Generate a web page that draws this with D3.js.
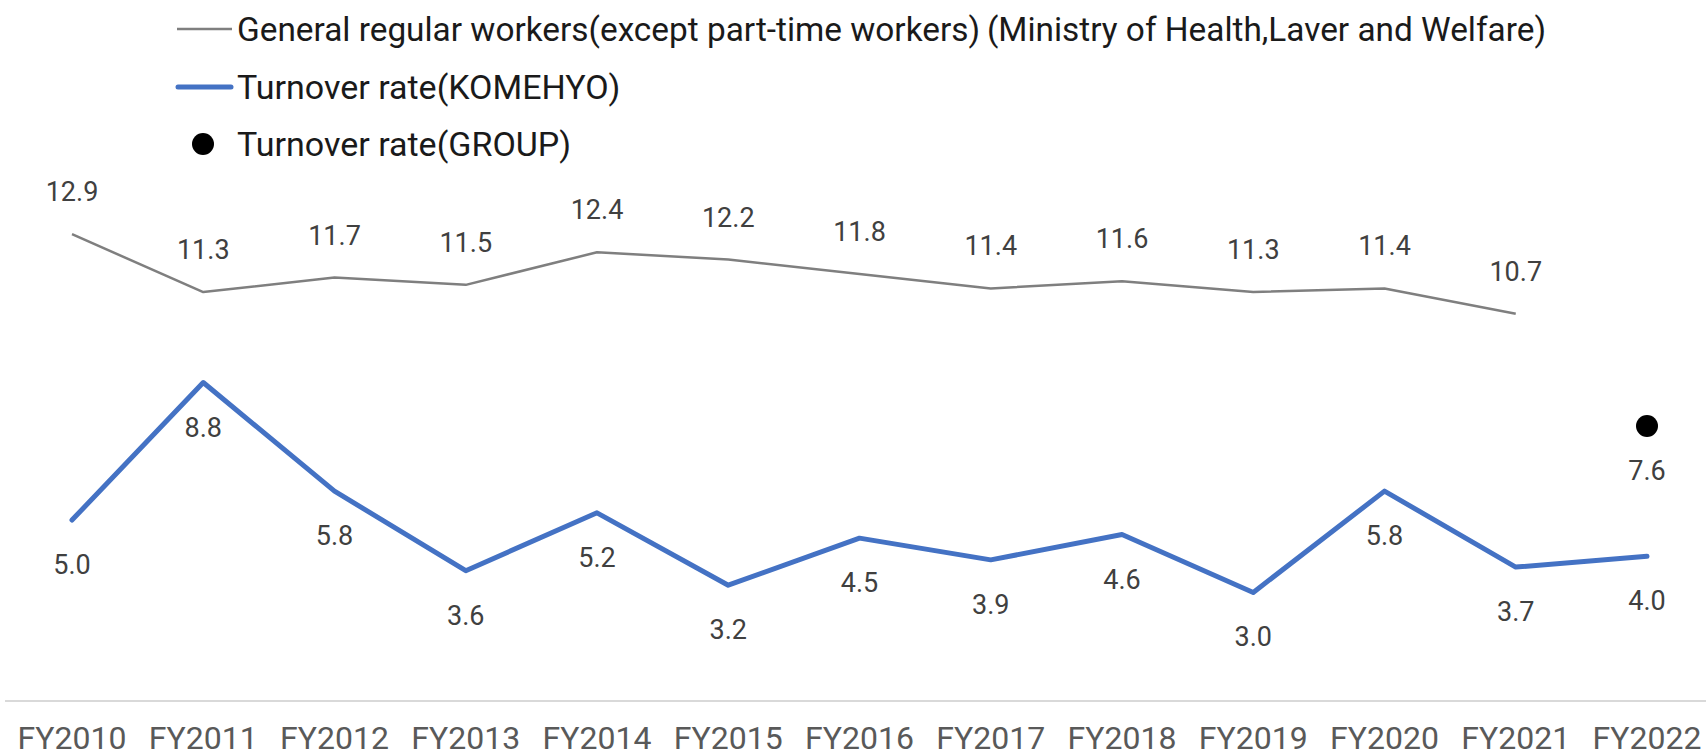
<!DOCTYPE html>
<html>
<head>
    <meta charset="UTF-8">
    <title>Turnover rate</title>
    <script src="https://d3js.org/d3.v7.min.js"></script>
    <style>
        body { margin: 0; background: #fff; }
        text { font-family: Roboto, "Noto Sans", sans-serif; }
    </style>
</head>
<body>
    <div id="chart"></div>

    <script>
        // data
        var years = ["FY2010", "FY2011", "FY2012", "FY2013", "FY2014", "FY2015", "FY2016",
                     "FY2017", "FY2018", "FY2019", "FY2020", "FY2021", "FY2022"];
        var generalRate = [12.9, 11.3, 11.7, 11.5, 12.4, 12.2, 11.8, 11.4, 11.6, 11.3, 11.4, 10.7, null];
        var komehyoRate = [5.0, 8.8, 5.8, 3.6, 5.2, 3.2, 4.5, 3.9, 4.6, 3.0, 5.8, 3.7, 4.0];
        var groupRate = [null, null, null, null, null, null, null, null, null, null, null, null, 7.6];
        var legendNames = [
            "General regular workers(except part-time workers)\u2009(Ministry of Health,Laver and Welfare)",
            "Turnover rate(KOMEHYO)",
            "Turnover rate(GROUP)"
        ];

        var width = 1706, height = 756;

        var svg = d3.select("#chart").append("svg")
            .attr("width", width)
            .attr("height", height);

        var x = d3.scalePoint()
            .domain(years)
            .range([72, 1647]);

        var y = d3.scaleLinear()
            .domain([0, 16])
            .range([701, 122]);

        // baseline
        svg.append("line")
            .attr("x1", 5).attr("x2", width)
            .attr("y1", y(0)).attr("y2", y(0))
            .attr("stroke", "#d9d9d9")
            .attr("stroke-width", 2);

        // x labels
        svg.selectAll(".xlab")
            .data(years)
            .enter().append("text")
            .attr("class", "xlab")
            .attr("x", function (d) { return x(d); })
            .attr("y", 749)
            .attr("text-anchor", "middle")
            .attr("font-size", 32)
            .attr("fill", "#595959")
            .text(function (d) { return d; });

        var line = d3.line()
            .defined(function (d) { return d[1] != null; })
            .x(function (d) { return x(d[0]); })
            .y(function (d) { return y(d[1]); });

        // general workers line
        svg.append("path")
            .datum(years.map(function (d, i) { return [d, generalRate[i]]; }))
            .attr("d", line)
            .attr("fill", "none")
            .attr("stroke", "#7f7f7f")
            .attr("stroke-width", 2.5)
            .attr("stroke-linejoin", "round");

        // komehyo line
        svg.append("path")
            .datum(years.map(function (d, i) { return [d, komehyoRate[i]]; }))
            .attr("d", line)
            .attr("fill", "none")
            .attr("stroke", "#4472c4")
            .attr("stroke-width", 5)
            .attr("stroke-linejoin", "round")
            .attr("stroke-linecap", "round");

        // group dot
        var groupData = years.map(function (d, i) { return [d, groupRate[i]]; })
            .filter(function (d) { return d[1] != null; });

        svg.selectAll(".dot")
            .data(groupData)
            .enter().append("circle")
            .attr("cx", function (d) { return x(d[0]); })
            .attr("cy", function (d) { return y(d[1]); })
            .attr("r", 11)
            .attr("fill", "#000");

        // data labels
        function addLabels(values, dy) {
            svg.selectAll(null)
                .data(years.map(function (d, i) { return [d, values[i]]; })
                    .filter(function (d) { return d[1] != null; }))
                .enter().append("text")
                .attr("x", function (d) { return x(d[0]); })
                .attr("y", function (d) { return y(d[1]) + dy; })
                .attr("text-anchor", "middle")
                .attr("font-size", 27)
                .attr("fill", "#404040")
                .text(function (d) { return d[1].toFixed(1); });
        }
        addLabels(generalRate, -33);
        addLabels(komehyoRate, 54);
        addLabels(groupRate, 54);

        // legend
        var legend = svg.append("g");
        var legendY = [29, 87, 144];

        legend.append("line")
            .attr("x1", 177).attr("x2", 232)
            .attr("y1", legendY[0]).attr("y2", legendY[0])
            .attr("stroke", "#7f7f7f").attr("stroke-width", 2.5);
        legend.append("line")
            .attr("x1", 178).attr("x2", 231)
            .attr("y1", legendY[1]).attr("y2", legendY[1])
            .attr("stroke", "#4472c4").attr("stroke-width", 5)
            .attr("stroke-linecap", "round");
        legend.append("circle")
            .attr("cx", 203).attr("cy", legendY[2])
            .attr("r", 11).attr("fill", "#000");

        legend.selectAll(".ltxt")
            .data(legendNames)
            .enter().append("text")
            .attr("x", 237)
            .attr("y", function (d, i) { return legendY[i]; })
            .attr("dy", "0.35em")
            .attr("font-size", 34)
            .attr("fill", "#1a1a1a")
            .text(function (d) { return d; });

        legend.select("text")
            .attr("textLength", 1309)
            .attr("lengthAdjust", "spacingAndGlyphs");
    </script>
</body>
</html>
